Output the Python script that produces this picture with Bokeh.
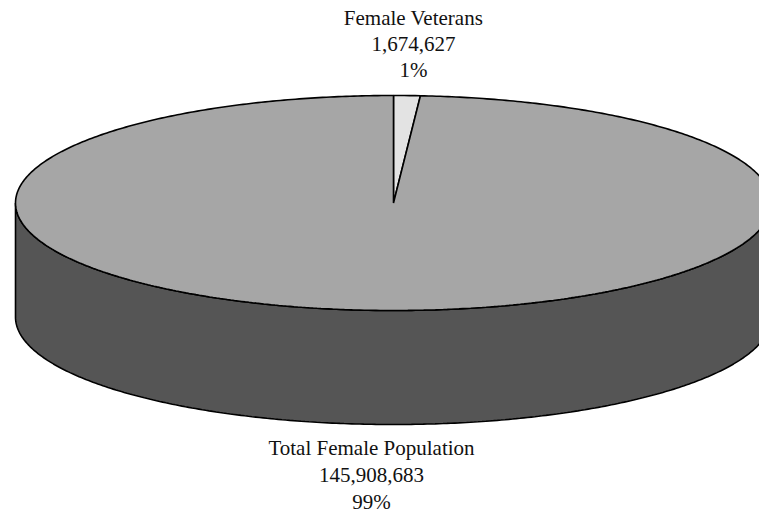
import numpy as np
from bokeh.plotting import figure
from bokeh.models import Range1d, ColumnDataSource
from bokeh.core.properties import value
from bokeh.embed import file_html
from bokeh.resources import INLINE

# ---- data ----
categories = ["Female Veterans", "Total Female Population"]
counts = [1674627, 145908683]
count_labels = ["1,674,627", "145,908,683"]
pct_labels = ["1%", "99%"]
slice_colors = ["#E3E3E3", "#A6A6A6"]
side_color = "#555555"

# ---- layout (screen pixel coordinates) ----
W, H = 759, 512
cx, cy = 393.0, 202.5
rx, ry = 378.0, 107.5
depth = 114.0

p = figure(width=W, height=H, x_range=Range1d(0, W), y_range=Range1d(H, 0),
           output_backend="svg", toolbar_location=None, min_border=0,
           x_axis_type=None, y_axis_type=None)
p.grid.visible = False
p.outline_line_color = None
p.background_fill_color = "white"
p.border_fill_color = "white"


def ell(theta, dy=0.0):
    return cx + rx * np.sin(theta), cy - ry * np.cos(theta) + dy


# side wall (front half: theta 90deg -> 270deg)
t = np.linspace(np.pi / 2, 3 * np.pi / 2, 300)
tx, ty = ell(t)
bx, by = ell(t[::-1], depth)
p.patch(np.concatenate([tx, bx]), np.concatenate([ty, by]),
        fill_color=side_color, line_color="black", line_width=1.6)

# top slices
fracs = np.array(counts, dtype=float) / np.sum(counts)
starts = np.concatenate([[0.0], np.cumsum(fracs)[:-1]]) * 2 * np.pi
ends = np.cumsum(fracs) * 2 * np.pi
xs, ys = [], []
for a0, a1 in zip(starts, ends):
    n = max(4, int((a1 - a0) / (2 * np.pi) * 600))
    tt = np.linspace(a0, a1, n)
    ex, ey = ell(tt)
    xs.append(np.concatenate([[cx], ex]))
    ys.append(np.concatenate([[cy], ey]))
p.patches(xs, ys, fill_color=slice_colors, line_color="black", line_width=1.6)

# labels
label_x = [413, 371]
label_y0 = [17, 447]
line_gap = [26, 27]
tx_, ty_, tt_ = [], [], []
for i in range(len(categories)):
    for j, s in enumerate([categories[i], count_labels[i], pct_labels[i]]):
        tx_.append(label_x[i])
        ty_.append(label_y0[i] + j * line_gap[i])
        tt_.append(s)
src = ColumnDataSource(dict(x=tx_, y=ty_, text=tt_))
p.text("x", "y", text="text", source=src, text_align="center", text_baseline="alphabetic",
       text_font=value("Liberation Serif"), text_font_size="21px", text_color="#111111")

open("out.html", "w").write(file_html(p, INLINE))
